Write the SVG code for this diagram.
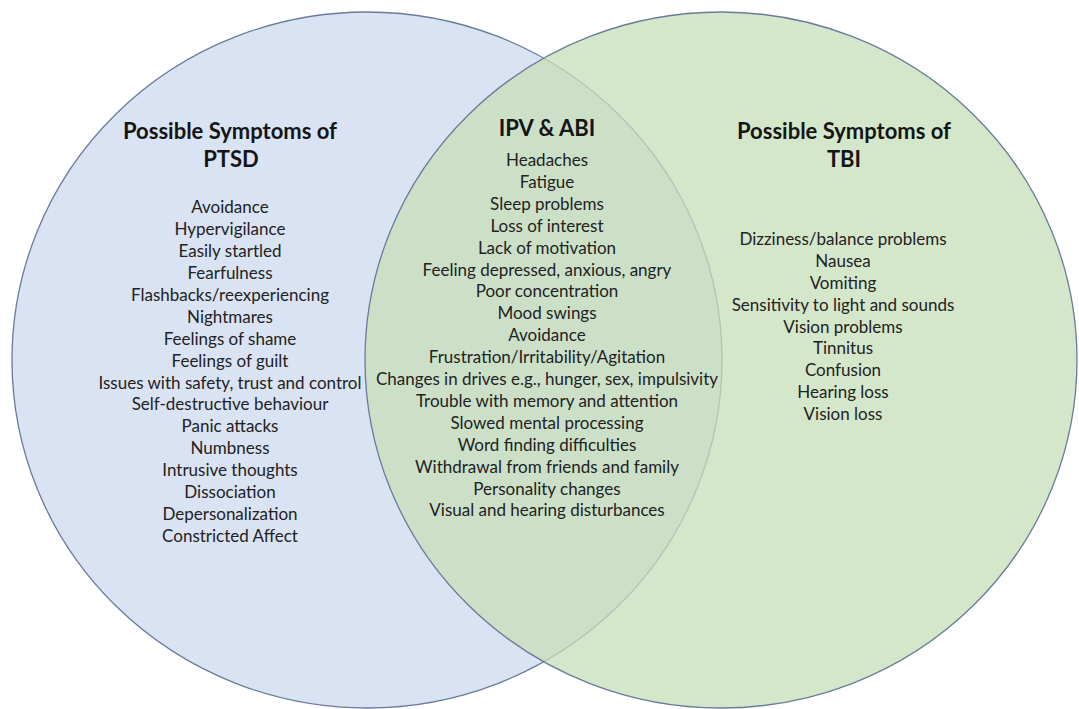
<svg xmlns="http://www.w3.org/2000/svg" width="1079" height="709" viewBox="0 0 1079 709">
<style>
.bg{fill:#ffffff}
.ptsd{fill:#DAE3F3;stroke:#6A7B9A;stroke-width:1.3}
.tbi{fill:#C7DFBA;fill-opacity:0.75;stroke:#6A7B9A;stroke-width:1.3}
.h{font-family:Lato,"Liberation Sans",sans-serif;font-weight:bold;font-size:22px;fill:#151515;text-anchor:middle}
.t{font-family:Lato,"Liberation Sans",sans-serif;font-size:17px;fill:#222222;text-anchor:middle}
</style>
<rect class="bg" x="0" y="0" width="1079" height="709"/>
<g id="circle-ptsd">
<ellipse class="ptsd" cx="367" cy="360" rx="355" ry="348"/>
</g>
<g id="circle-tbi">
<ellipse class="tbi" cx="721" cy="360" rx="356" ry="348"/>
</g>
<g id="connectors"></g>
<g id="node-ptsd">
<text class="h" x="230" y="139">Possible Symptoms of</text>
<text class="h" x="231" y="167">PTSD</text>
<text class="t" x="230" y="213">Avoidance</text>
<text class="t" x="230" y="235">Hypervigilance</text>
<text class="t" x="230" y="257">Easily startled</text>
<text class="t" x="230" y="279">Fearfulness</text>
<text class="t" x="230" y="301">Flashbacks/reexperiencing</text>
<text class="t" x="230" y="323">Nightmares</text>
<text class="t" x="230" y="345">Feelings of shame</text>
<text class="t" x="230" y="367">Feelings of guilt</text>
<text class="t" x="230" y="389">Issues with safety, trust and control</text>
<text class="t" x="230" y="410">Self-destructive behaviour</text>
<text class="t" x="230" y="432">Panic attacks</text>
<text class="t" x="230" y="454">Numbness</text>
<text class="t" x="230" y="476">Intrusive thoughts</text>
<text class="t" x="230" y="498">Dissociation</text>
<text class="t" x="230" y="520">Depersonalization</text>
<text class="t" x="230" y="542">Constricted Affect</text>
</g>
<g id="node-ipv-abi">
<text class="h" x="547" y="136">IPV &amp; ABI</text>
<text class="t" x="547" y="166">Headaches</text>
<text class="t" x="547" y="187.9">Fatigue</text>
<text class="t" x="547" y="209.8">Sleep problems</text>
<text class="t" x="547" y="231.7">Loss of interest</text>
<text class="t" x="547" y="253.6">Lack of motivation</text>
<text class="t" x="547" y="275.5">Feeling depressed, anxious, angry</text>
<text class="t" x="547" y="297.4">Poor concentration</text>
<text class="t" x="547" y="319.3">Mood swings</text>
<text class="t" x="547" y="341.2">Avoidance</text>
<text class="t" x="547" y="363.1">Frustration/Irritability/Agitation</text>
<text class="t" x="547" y="385">Changes in drives e.g., hunger, sex, impulsivity</text>
<text class="t" x="547" y="406.9">Trouble with memory and attention</text>
<text class="t" x="547" y="428.8">Slowed mental processing</text>
<text class="t" x="547" y="450.7">Word finding difficulties</text>
<text class="t" x="547" y="472.6">Withdrawal from friends and family</text>
<text class="t" x="547" y="494.5">Personality changes</text>
<text class="t" x="547" y="516.4">Visual and hearing disturbances</text>
</g>
<g id="node-tbi">
<text class="h" x="844" y="139">Possible Symptoms of</text>
<text class="h" x="844" y="167">TBI</text>
<text class="t" x="843" y="245">Dizziness/balance problems</text>
<text class="t" x="843" y="267">Nausea</text>
<text class="t" x="843" y="289">Vomiting</text>
<text class="t" x="843" y="311">Sensitivity to light and sounds</text>
<text class="t" x="843" y="333">Vision problems</text>
<text class="t" x="843" y="354">Tinnitus</text>
<text class="t" x="843" y="376">Confusion</text>
<text class="t" x="843" y="398">Hearing loss</text>
<text class="t" x="843" y="420">Vision loss</text>
</g>
</svg>
